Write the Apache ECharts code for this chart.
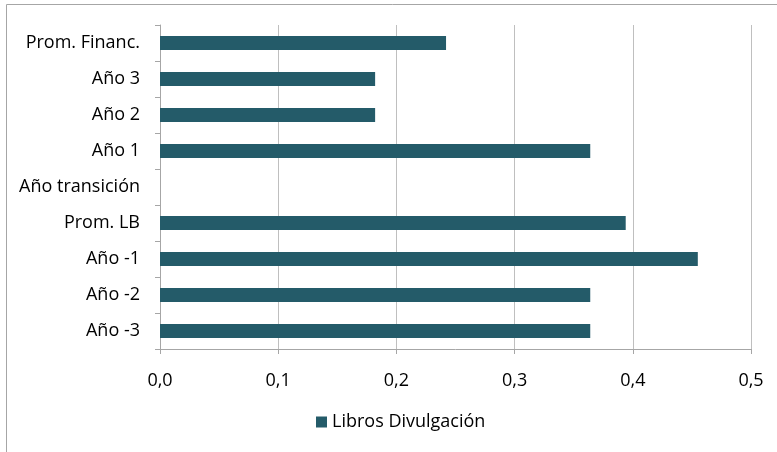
<!DOCTYPE html>
<html>
<head>
<meta charset="utf-8">
<script src="https://cdn.jsdelivr.net/npm/echarts@6/dist/echarts.min.js"></script>
<style>html,body{margin:0;padding:0;background:#fff;}#c{width:777px;height:452px;}</style>
</head>
<body>
<div id="c"></div>
<script>
const categories = ['Año -3', 'Año -2', 'Año -1', 'Prom. LB', 'Año transición', 'Año 1', 'Año 2', 'Año 3', 'Prom. Financ.'];
const seriesName = 'Libros Divulgación';
const values = [0.364, 0.364, 0.455, 0.394, 0, 0.364, 0.182, 0.182, 0.242];
const xTicks = [0, 0.1, 0.2, 0.3, 0.4, 0.5];

const chart = echarts.init(document.getElementById('c'), null, {renderer: 'canvas'});
const FONT = 'Open Sans';
chart.setOption({
  animation: false,
  backgroundColor: '#fff',
  graphic: [{
    type: 'rect', shape: {x: 6.5, y: 4.5, width: 800, height: 500},
    style: {fill: 'none', stroke: '#a6a6a6', lineWidth: 1}, silent: true, z: -1
  }],
  grid: {left: 160, right: 26, top: 25, bottom: 103, containLabel: false},
  xAxis: {
    type: 'value', min: xTicks[0], max: xTicks[xTicks.length - 1], interval: 0.1,
    axisLine: {show: true, lineStyle: {color: '#a6a6a6', width: 1}},
    axisTick: {show: true, length: 5, lineStyle: {color: '#a6a6a6'}},
    splitLine: {show: true, lineStyle: {color: '#bfbfbf', width: 1}},
    axisLabel: {
      color: '#000', fontFamily: FONT, fontSize: 18, margin: 23,
      formatter: v => v.toFixed(1).replace('.', ',')
    }
  },
  yAxis: {
    type: 'category', data: categories,
    axisLine: {show: true, lineStyle: {color: '#a6a6a6', width: 1}},
    axisTick: {show: true, length: 5, lineStyle: {color: '#a6a6a6'}},
    axisLabel: {color: '#000', fontFamily: FONT, fontSize: 18, margin: 20}
  },
  legend: {
    data: [seriesName], left: 311, top: 408, icon: 'rect',
    itemWidth: 11, itemHeight: 11, itemGap: 4,
    textStyle: {color: '#000', fontFamily: FONT, fontSize: 18}
  },
  series: [{
    name: seriesName, type: 'bar', data: values,
    barWidth: 14,
    itemStyle: {color: '#245b69'}
  }]
});
</script>
</body>
</html>
